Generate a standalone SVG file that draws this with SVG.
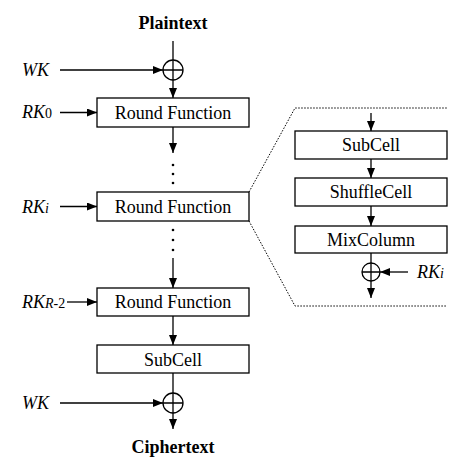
<svg xmlns="http://www.w3.org/2000/svg" width="469" height="470" viewBox="0 0 469 470">
<style>
text{font-family:"Liberation Serif","Times New Roman",serif;font-size:18px;fill:#000}
.c{text-anchor:middle}
.b{font-weight:bold}
.i{font-style:italic}
.s{font-size:14px}
.box{fill:#fff;stroke:#000;stroke-width:1.3}
.ln{stroke:#000;stroke-width:1.3;fill:none}
.ar{stroke:#000;stroke-width:1.3;fill:none;marker-end:url(#ah)}
.dot{stroke:#000;stroke-width:1;fill:none;stroke-dasharray:1.5 1.5}
.xor{fill:#fff;stroke:#000;stroke-width:1.3}
</style>
<defs>
<marker id="ah" markerWidth="10" markerHeight="8" refX="10" refY="4" orient="auto" markerUnits="userSpaceOnUse">
<path d="M0,0 L10,4 L0,8 z" fill="#000"/>
</marker>
</defs>
<g id="connectors">
<line class="ln" x1="173" y1="41" x2="173" y2="60"/>
<line class="ar" x1="173" y1="80" x2="173" y2="98"/>
<line class="ar" x1="60" y1="70" x2="163" y2="70"/>
<line class="ar" x1="60" y1="112.5" x2="97" y2="112.5"/>
<line class="ar" x1="173" y1="127" x2="173" y2="153"/>
<line class="ar" x1="60" y1="206.5" x2="97" y2="206.5"/>
<line class="ar" x1="173" y1="258" x2="173" y2="288"/>
<line class="ar" x1="67" y1="302" x2="97" y2="302"/>
<line class="ar" x1="173" y1="316" x2="173" y2="345"/>
<line class="ln" x1="173" y1="373" x2="173" y2="393"/>
<line class="ar" x1="173" y1="413" x2="173" y2="429"/>
<line class="ar" x1="60" y1="403" x2="163" y2="403"/>
<line class="ar" x1="371" y1="113" x2="371" y2="131"/>
<line class="ar" x1="371" y1="159" x2="371" y2="178"/>
<line class="ar" x1="371" y1="206" x2="371" y2="226"/>
<line class="ln" x1="371" y1="253" x2="371" y2="263"/>
<line class="ar" x1="371" y1="281" x2="371" y2="298"/>
<line class="ar" x1="408" y1="272" x2="380" y2="272"/>
<polyline class="dot" points="249,192 295,108 447,108"/>
<polyline class="dot" points="249,221 295,306 447,306"/>
<g fill="#000">
<circle cx="173" cy="165" r="1.3"/><circle cx="173" cy="174" r="1.3"/><circle cx="173" cy="183" r="1.3"/>
<circle cx="173" cy="230" r="1.3"/><circle cx="173" cy="240" r="1.3"/><circle cx="173" cy="250" r="1.3"/>
</g>
</g>
<g id="plaintext"><text class="c b" x="173" y="29">Plaintext</text></g>
<g id="ciphertext"><text class="c b" x="173" y="453">Ciphertext</text></g>
<g id="xor1"><circle class="xor" cx="173" cy="70" r="10"/><path class="ln" d="M163,70H183M173,60V80"/></g>
<g id="xor2"><circle class="xor" cx="173" cy="403" r="10"/><path class="ln" d="M163,403H183M173,393V413"/></g>
<g id="xor3"><circle class="xor" cx="371" cy="272" r="9"/><path class="ln" d="M362,272H380M371,263V281"/></g>
<g id="wk1"><text class="i" x="22" y="76">WK</text></g>
<g id="wk2"><text class="i" x="22" y="409">WK</text></g>
<g id="rk0"><text x="22" y="118"><tspan class="i">RK</tspan><tspan class="s">0</tspan></text></g>
<g id="rki"><text x="22" y="212.5"><tspan class="i">RK</tspan><tspan class="s i">i</tspan></text></g>
<g id="rkr2"><text x="22" y="308"><tspan class="i">RK</tspan><tspan class="s"><tspan class="i">R</tspan>-2</tspan></text></g>
<g id="rki2"><text x="417" y="278"><tspan class="i">RK</tspan><tspan class="s i">i</tspan></text></g>
<g id="rf1"><rect class="box" x="97" y="98" width="152" height="29"/><text class="c" x="173" y="118.5">Round Function</text></g>
<g id="rf2"><rect class="box" x="97" y="192" width="152" height="29"/><text class="c" x="173" y="212.5">Round Function</text></g>
<g id="rf3"><rect class="box" x="97" y="288" width="152" height="28"/><text class="c" x="173" y="308">Round Function</text></g>
<g id="subcell"><rect class="box" x="97" y="345" width="152" height="28"/><text class="c" x="173" y="365.5">SubCell</text></g>
<g id="subcell2"><rect class="box" x="295" y="131" width="152" height="28"/><text class="c" x="371" y="151">SubCell</text></g>
<g id="shufflecell"><rect class="box" x="295" y="178" width="152" height="28"/><text class="c" x="371" y="198">ShuffleCell</text></g>
<g id="mixcolumn"><rect class="box" x="295" y="226" width="152" height="27"/><text class="c" x="371" y="245.5">MixColumn</text></g>
</svg>
